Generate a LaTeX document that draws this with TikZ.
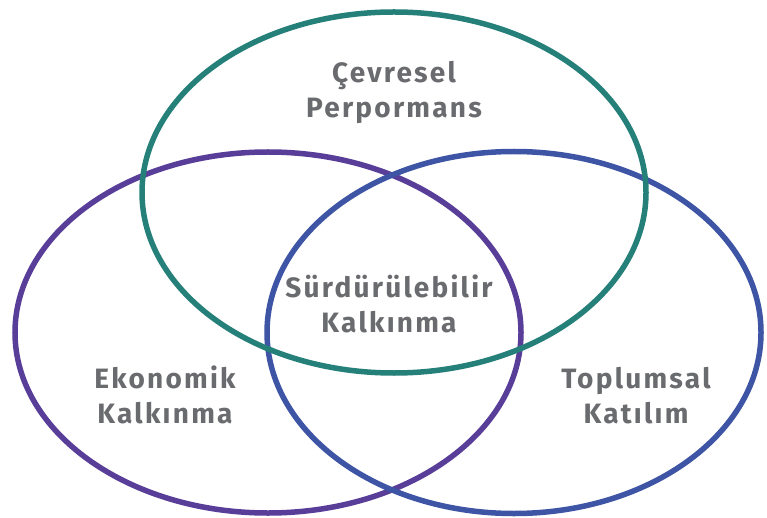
\documentclass[tikz,border=0pt]{standalone}
\usepackage{fontspec}
\setmainfont{Fira Sans}[BoldFont={Fira Sans Bold},BoldFeatures={LetterSpace=8}]
\definecolor{tealc}{RGB}{38,128,122}
\definecolor{purplec}{RGB}{88,62,152}
\definecolor{bluec}{RGB}{62,84,164}
\definecolor{textc}{RGB}{106,107,110}
\begin{document}
\begin{tikzpicture}[x=1pt,y=-1pt,
  ring/.style={line width=5.5pt},
  lbl/.style={text=textc,font=\bfseries\fontsize{28}{35}\selectfont,align=center,inner sep=0pt,anchor=base}]
\useasboundingbox[fill=white] (0,0) rectangle (767,518);
\draw[ring,draw=purplec] (268,332.5) ellipse [x radius=253, y radius=180.5];
\draw[ring,draw=bluec] (514,332.5) ellipse [x radius=247, y radius=181];
\draw[ring,draw=tealc] (394,192.5) ellipse [x radius=252, y radius=180.5];
\node[lbl] (env) at (394,118) {Çevresel\\Perpormans};
\node[lbl] (sus) at (389,332) {Sürdürülebilir\\Kalkınma};
\node[lbl] (eco) at (165,423) {Ekonomik\\Kalkınma};
\node[lbl] (soc) at (636,423) {Toplumsal\\Katılım};
\end{tikzpicture}
\end{document}
